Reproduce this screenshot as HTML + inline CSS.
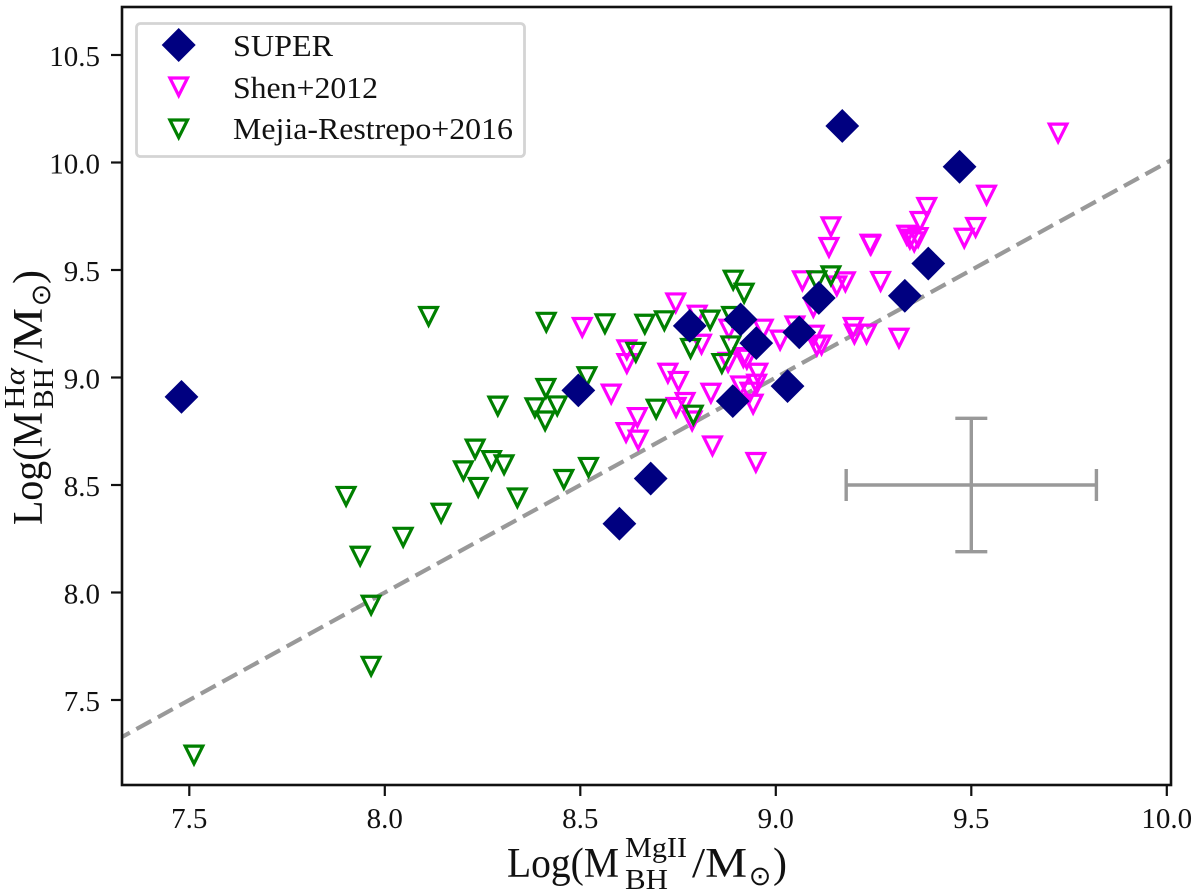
<!DOCTYPE html>
<html lang="en">
<head>
<meta charset="utf-8">
<title>Black hole mass comparison</title>
<style>
  html, body { margin: 0; padding: 0; background: #fff; }
  svg { display: block; }
  text { font-family: "Liberation Serif", "DejaVu Serif", serif; fill: #111; }
</style>
</head>
<body>
<svg id="chart" xmlns="http://www.w3.org/2000/svg" width="1200" height="896" viewBox="0 0 1200 896">
  <defs>
    <clipPath id="plot-clip"><rect x="122" y="7" width="1049" height="778"></rect></clipPath>
  </defs>
  <rect x="0" y="0" width="1200" height="896" fill="#fff"></rect>
  <g id="marks" clip-path="url(#plot-clip)"></g>
  <rect x="122" y="7" width="1049" height="778" fill="none" stroke="#111" stroke-width="2.6"></rect>
  <g id="ticks"></g>

  <g>
    <rect x="136.5" y="23.5" width="388" height="133" rx="4" ry="4" fill="#fff" stroke="#d4d4d4" stroke-width="2.8"></rect>
    <path d="M178.7 28 L195.7 45 L178.7 62 L161.7 45 Z" fill="#000080"></path>
    <path d="M169.9 78 H187.5 L178.7 95.6 Z" fill="none" stroke="#ff00ff" stroke-width="3.2"></path>
    <path d="M169.9 120 H187.5 L178.7 137.6 Z" fill="none" stroke="#008000" stroke-width="3.2"></path>
    <text x="233" y="56" font-size="31" textLength="100" lengthAdjust="spacingAndGlyphs">SUPER</text>
    <text x="233" y="98" font-size="31" textLength="145" lengthAdjust="spacingAndGlyphs">Shen+2012</text>
    <text x="233" y="139" font-size="31" textLength="280" lengthAdjust="spacingAndGlyphs">Mejia-Restrepo+2016</text>
  </g>

  <g>
    <text x="507" y="877" font-size="42" textLength="112" lengthAdjust="spacingAndGlyphs">Log(M</text>
    <text x="625" y="857" font-size="29" textLength="62" lengthAdjust="spacingAndGlyphs">MgII</text>
    <text x="625" y="889" font-size="29" textLength="43" lengthAdjust="spacingAndGlyphs">BH</text>
    <text x="692" y="877" font-size="42" textLength="55" lengthAdjust="spacingAndGlyphs">/M</text>
    <text x="760" y="885" font-size="27" text-anchor="middle" style="font-family:'DejaVu Sans',sans-serif">⊙</text>
    <text x="773" y="877" font-size="42">)</text>
  </g>

  <g transform="translate(42 525) rotate(-90)">
    <text x="0" y="0" font-size="42" textLength="113" lengthAdjust="spacingAndGlyphs">Log(M</text>
    <text x="116" y="-18" font-size="29" textLength="41" lengthAdjust="spacingAndGlyphs">H<tspan font-style="italic">α</tspan></text>
    <text x="116" y="11" font-size="29" textLength="41" lengthAdjust="spacingAndGlyphs">BH</text>
    <text x="162" y="0" font-size="42" textLength="55" lengthAdjust="spacingAndGlyphs">/M</text>
    <text x="230" y="8" font-size="27" text-anchor="middle" style="font-family:'DejaVu Sans',sans-serif">⊙</text>
    <text x="241" y="0" font-size="42">)</text>
  </g>
</svg>
<script>
const xTicks = [7.5, 8.0, 8.5, 9.0, 9.5, 10.0];
const yTicks = [7.5, 8.0, 8.5, 9.0, 9.5, 10.0, 10.5];
const xTickLabels = ["7.5", "8.0", "8.5", "9.0", "9.5", "10.0"];
const yTickLabels = ["7.5", "8.0", "8.5", "9.0", "9.5", "10.0", "10.5"];

const shenX = [8.505, 8.744, 8.799, 8.619, 8.619, 8.81, 8.88, 8.968, 9.011, 9.049, 9.098, 9.105, 9.117, 9.198, 9.201, 9.136, 9.141, 9.068, 9.178, 9.156, 9.096, 8.917, 8.878, 8.926, 8.954, 8.951, 8.91, 8.934, 8.942, 8.834, 8.724, 8.751, 8.579, 8.768, 8.745, 8.646, 8.617, 8.648, 8.786, 8.838, 8.949, 9.722, 9.539, 9.386, 9.369, 9.511, 9.482, 9.335, 9.343, 9.354, 9.364, 9.241, 9.243, 9.268, 9.232, 9.315];
const shenY = [9.229, 9.343, 9.286, 9.125, 9.061, 9.151, 9.221, 9.221, 9.17, 9.236, 9.193, 9.143, 9.147, 9.229, 9.198, 9.601, 9.697, 9.446, 9.441, 9.422, 9.322, 9.089, 9.067, 9.081, 9.016, 8.965, 8.957, 8.928, 8.872, 8.923, 9.016, 8.978, 8.919, 8.88, 8.857, 8.81, 8.74, 8.705, 8.794, 8.678, 8.601, 10.133, 9.844, 9.787, 9.722, 9.694, 9.644, 9.658, 9.64, 9.627, 9.647, 9.616, 9.612, 9.443, 9.198, 9.179];

const mejiaX = [8.112, 8.413, 8.563, 8.665, 8.715, 8.642, 8.517, 8.412, 8.384, 8.441, 8.41, 8.289, 8.231, 8.273, 8.305, 8.201, 8.239, 8.458, 8.521, 8.339, 7.901, 8.144, 8.047, 7.937, 7.965, 7.965, 7.512, 8.891, 8.919, 8.832, 8.887, 8.782, 8.885, 8.862, 8.694, 8.789, 9.105, 9.141];
const mejiaY = [9.28, 9.253, 9.246, 9.244, 9.26, 9.113, 9.0, 8.945, 8.855, 8.864, 8.794, 8.863, 8.663, 8.61, 8.59, 8.562, 8.485, 8.522, 8.578, 8.436, 8.443, 8.365, 8.253, 8.165, 7.937, 7.653, 7.24, 9.449, 9.388, 9.263, 9.28, 9.131, 9.143, 9.061, 8.849, 8.821, 9.446, 9.469];

const superX = [7.48, 8.495, 8.60, 8.68, 8.78, 8.89, 8.91, 8.95, 9.03, 9.06, 9.11, 9.17, 9.33, 9.39, 9.47];
const superY = [8.91, 8.94, 8.32, 8.53, 9.24, 8.89, 9.27, 9.16, 8.96, 9.21, 9.37, 10.17, 9.38, 9.53, 9.98];

const oneToOneLine = [7.2, 10.2];
const errorCenter = [9.5, 8.5];
const errorSize = [0.32, 0.31];

const SVG_NS = "http://www.w3.org/2000/svg";
const sx = v => 580.3 + (v - 8.5) * 391;
const sy = v => 377.5 - (v - 9) * 215;
const marks = document.getElementById("marks");
const ticks = document.getElementById("ticks");

function make(tag, parent, attrs) {
  const el = document.createElementNS(SVG_NS, tag);
  for (const k in attrs) el.setAttribute(k, attrs[k]);
  parent.appendChild(el);
  return el;
}

xTicks.forEach((t, i) => {
  const tick = make("line", ticks, { x1: sx(t), x2: sx(t), y1: 785, y2: 796, stroke: "#111", "stroke-width": 2.2 });
  
  
  const label = make("text", ticks, { x: sx(t), y: 828, "font-size": 29, "text-anchor": "middle" });
  label.textContent = xTickLabels[i];
  
  
});

yTicks.forEach((t, i) => {
  const tick = make("line", ticks, { x1: 111, x2: 122, y1: sy(t), y2: sy(t), stroke: "#111", "stroke-width": 2.2 });
  
  
  const label = make("text", ticks, { x: 100, y: sy(t) + 11, "font-size": 29, "text-anchor": "end" });
  label.textContent = yTickLabels[i];
  
  
});

const fit = make("line", marks, {
  x1: sx(oneToOneLine[0]), y1: sy(oneToOneLine[0]),
  x2: sx(oneToOneLine[1]), y2: sy(oneToOneLine[1]),
  stroke: "#999", "stroke-width": 4.2, "stroke-dasharray": "17 7.5"
});



const errGroup = make("g", marks, { stroke: "#999", "stroke-width": 3.4, fill: "none" });


const ex0 = sx(errorCenter[0] - errorSize[0]), ex1 = sx(errorCenter[0] + errorSize[0]);
const ey0 = sy(errorCenter[1] - errorSize[1]), ey1 = sy(errorCenter[1] + errorSize[1]);
const ecx = sx(errorCenter[0]), ecy = sy(errorCenter[1]);
make("line", errGroup, { x1: ex0, x2: ex1, y1: ecy, y2: ecy });
make("line", errGroup, { x1: ecx, x2: ecx, y1: ey0, y2: ey1 });
make("line", errGroup, { x1: ex0, x2: ex0, y1: ecy - 16, y2: ecy + 16 });
make("line", errGroup, { x1: ex1, x2: ex1, y1: ecy - 16, y2: ecy + 16 });
make("line", errGroup, { x1: ecx - 16, x2: ecx + 16, y1: ey0, y2: ey0 });
make("line", errGroup, { x1: ecx - 16, x2: ecx + 16, y1: ey1, y2: ey1 });

function triangle(v, w, color) {
  const cx = sx(v), cy = sy(w) - 1, r = 8.8;
  return make("path", marks, {
    d: `M${cx - r} ${cy - r} H${cx + r} L${cx} ${cy + r} Z`,
    fill: "none", stroke: color, "stroke-width": 3.2
  });
}

shenX.forEach((v, i) => {
  const p = triangle(v, shenY[i], "#ff00ff");
  
  
});

mejiaX.forEach((v, i) => {
  const p = triangle(v, mejiaY[i], "#008000");
  
  
});

superX.forEach((v, i) => {
  const cx = sx(v), cy = sy(superY[i]), r = 16.9;
  const p = make("path", marks, {
    d: `M${cx} ${cy - r} L${cx + r} ${cy} L${cx} ${cy + r} L${cx - r} ${cy} Z`,
    fill: "#000080"
  });
  
  
});
</script>
</body>
</html>
